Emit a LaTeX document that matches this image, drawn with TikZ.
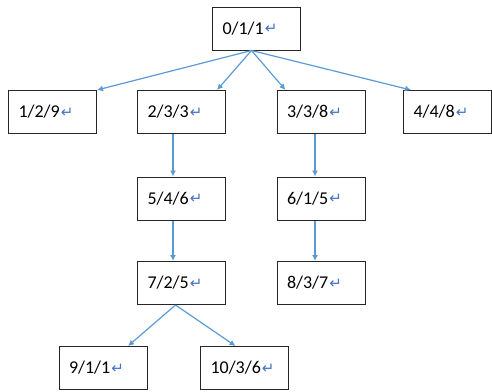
\documentclass[tikz,border=0pt]{standalone}
\usepackage{fontspec}
\setmainfont{Carlito}
\newfontfamily\markfont{DejaVu Sans}
\usetikzlibrary{arrows.meta,positioning}
\definecolor{linkblue}{RGB}{91,155,213}
\definecolor{markblue}{RGB}{68,114,196}
\newcommand{\retmark}{\kern1pt\raisebox{0.5pt}{\markfont\fontsize{15}{15}\selectfont\color{markblue}↵}}

\tikzset{
  state/.style={draw=black!85, line width=1pt, minimum height=43pt, text width=68pt,
    inner xsep=10pt, align=left, font=\fontsize{18}{20}\selectfont},
  link/.style={draw=linkblue, line width=1.2pt, -{Latex[length=6pt,width=6pt]}},
}

\begin{document}
\begin{tikzpicture}[x=1pt, y=-1pt]
\useasboundingbox (0,0) rectangle (492,391);
%% boxes
\node[state] (s011) at (256.5,28.5) {0/1/1\retmark};%%
\node[state] (s129) at (52.5,112) {1/2/9\retmark};%%
\node[state] (s233) at (181.5,112) {2/3/3\retmark};%%
\node[state] (s338) at (321,112) {3/3/8\retmark};%%
\node[state] (s448) at (447.5,112) {4/4/8\retmark};%%
\node[state] (s546) at (181.5,198.5) {5/4/6\retmark};%%
\node[state] (s615) at (321,198.5) {6/1/5\retmark};%%
\node[state] (s725) at (181.5,283) {7/2/5\retmark};%%
\node[state] (s837) at (321,283) {8/3/7\retmark};%%
\node[state] (s911) at (103,368) {9/1/1\retmark};%%
\node[state] (s1036) at (244.5,368) {10/3/6\retmark};%%
%% links
\draw[link] ([xshift=-5pt]s011.south) -- (s129.north east);%%
\draw[link] ([xshift=-5pt]s011.south) -- ([xshift=-9pt]s233.north east);%%
\draw[link] ([xshift=-5pt]s011.south) -- ([xshift=9pt]s338.north west);%%
\draw[link] ([xshift=-5pt]s011.south) -- ([xshift=8pt]s448.north west);%%
\draw[link] ([xshift=-8.5pt]s233.south) -- ([xshift=-8.5pt]s546.north);%%
\draw[link] ([xshift=-8.5pt]s546.south) -- ([xshift=-8.5pt]s725.north);%%
\draw[link] ([xshift=-6pt]s338.south) -- ([xshift=-6pt]s615.north);%%
\draw[link] ([xshift=-6pt]s615.south) -- ([xshift=-6pt]s837.north);%%
\draw[link] ([xshift=-6pt]s725.south) -- ([xshift=25pt]s911.north);%%
\draw[link] ([xshift=-6pt]s725.south) -- ([xshift=-9pt]s1036.north);%%
\end{tikzpicture}
\end{document}
